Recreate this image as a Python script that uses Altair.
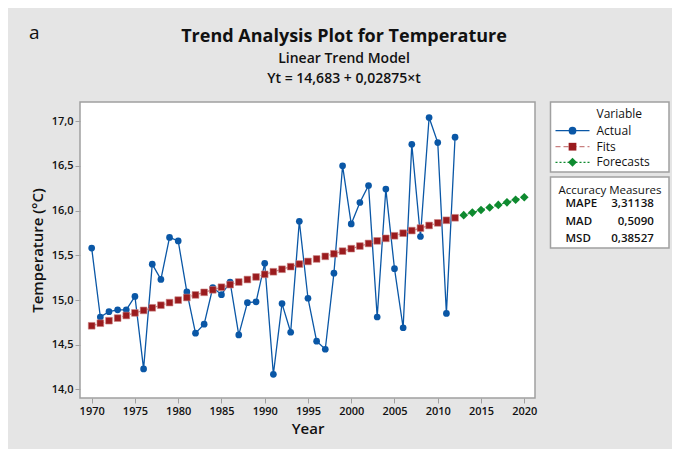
import altair as alt
import pandas as pd

# ---- data ----
years_actual = list(range(1970, 2013))
actual = [15.58, 14.81, 14.87, 14.89, 14.89, 15.04, 14.23, 15.40, 15.23, 15.70,
          15.66, 15.09, 14.63, 14.73, 15.14, 15.06, 15.20, 14.61, 14.97, 14.98,
          15.41, 14.17, 14.96, 14.64, 15.88, 15.02, 14.54, 14.45, 15.30, 16.50,
          15.85, 16.09, 16.28, 14.81, 16.24, 15.35, 14.69, 16.74, 15.71, 17.04,
          16.76, 14.85, 16.82]
fits = [14.712, 14.741, 14.769, 14.798, 14.827, 14.856, 14.884, 14.913, 14.942, 14.971,
        14.999, 15.028, 15.057, 15.086, 15.114, 15.143, 15.172, 15.201, 15.229, 15.258,
        15.287, 15.316, 15.344, 15.373, 15.402, 15.431, 15.459, 15.488, 15.517, 15.546,
        15.574, 15.603, 15.632, 15.661, 15.689, 15.718, 15.747, 15.776, 15.804, 15.833,
        15.862, 15.891, 15.919]
years_forecast = list(range(2013, 2021))
forecasts = [15.948, 15.977, 16.006, 16.034, 16.063, 16.092, 16.121, 16.149]
x_ticks = list(range(1970, 2021, 5))
y_ticks = [14.0, 14.5, 15.0, 15.5, 16.0, 16.5, 17.0]
measures = ["MAPE", "MAD", "MSD"]
measure_values = ["3,31138", "0,5090", "0,38527"]

df_a = pd.DataFrame({"Year": years_actual, "Temperature": actual})
df_f = pd.DataFrame({"Year": years_actual, "Temperature": fits})
df_fc = pd.DataFrame({"Year": years_forecast, "Temperature": forecasts})

BLUE = "#0A57A6"
RED = "#9A1B1E"
RED_LINE = "#C98080"
GREEN = "#0E8A2F"
GRAY = "#A0A0A0"
FONT = "Open Sans"

W, H = 455, 296

xenc = alt.X("Year:Q",
             scale=alt.Scale(domain=[1968.65, 2021.24], nice=False, zero=False),
             axis=alt.Axis(values=x_ticks, format="d", title="Year",
                           titleFontSize=15, titleFont=FONT, titleFontWeight=600,
                           titlePadding=5, titleColor="#111",
                           labelFont=FONT, labelFontSize=11, labelFontWeight=600,
                           labelColor="#111", labelPadding=2,
                           tickColor=GRAY, tickSize=5, domain=False, grid=False))
yenc = alt.Y("Temperature:Q",
             scale=alt.Scale(domain=[13.905, 17.213], nice=False, zero=False),
             axis=alt.Axis(values=y_ticks, title="Temperature (°C)",
                           labelExpr="replace(format(datum.value, '.1f'), '.', ',')",
                           titleFontSize=15, titleFont=FONT, titleFontWeight=600,
                           titlePadding=6, titleColor="#111",
                           labelFont=FONT, labelFontSize=11, labelFontWeight=600,
                           labelColor="#111", labelPadding=2,
                           tickColor=GRAY, tickSize=5, domain=False, grid=False))

actual_layer = alt.Chart(df_a).mark_line(
    color=BLUE, strokeWidth=1.3,
    point=alt.OverlayMarkDef(filled=True, size=45, color=BLUE, opacity=1)
).encode(x=xenc, y=yenc)

fits_line = alt.Chart(df_f).mark_line(color=RED_LINE, strokeWidth=1.3, strokeDash=[5, 3]).encode(x=xenc, y=yenc)
fits_pts = alt.Chart(df_f).mark_point(shape="square", filled=True, size=45, color=RED,
                                      stroke=RED_LINE, strokeWidth=0.6, opacity=1).encode(x=xenc, y=yenc)
fc_line = alt.Chart(df_fc).mark_line(color=GREEN, strokeWidth=1.2, strokeDash=[2, 2]).encode(x=xenc, y=yenc)
fc_pts = alt.Chart(df_fc).mark_point(shape="diamond", filled=True, size=75, color=GREEN, opacity=1).encode(x=xenc, y=yenc)

one = pd.DataFrame({"k": [0]})


def txt(s, x, y, size=11, weight="normal", align="left", font=FONT, color="#111"):
    return alt.Chart(one).mark_text(text=s, fontSize=size, fontWeight=weight, align=align,
                                    baseline="middle", font=font, color=color).encode(
        x=alt.value(x), y=alt.value(y))


def box(x1, x2, y1, y2):
    return alt.Chart(one).mark_rect(fill="white", stroke=GRAY, strokeWidth=1.5).encode(
        x=alt.value(x1), x2=alt.value(x2), y=alt.value(y1), y2=alt.value(y2))


def hline(x1, x2, y, color, dash, width=1.3):
    kw = dict(color=color, strokeWidth=width)
    if dash:
        kw["strokeDash"] = dash
    return alt.Chart(one).mark_rule(**kw).encode(x=alt.value(x1), x2=alt.value(x2), y=alt.value(y))


def sym(x, y, shape, color, size):
    return alt.Chart(one).mark_point(shape=shape, filled=True, size=size, color=color, opacity=1).encode(
        x=alt.value(x), y=alt.value(y))


layers = [actual_layer, fits_line, fits_pts, fc_line, fc_pts]

# titles
layers += [
    txt("a", -51, -69, size=19),
    txt("Trend Analysis Plot for Temperature", 264, -65, size=18, weight="bold", align="center"),
    txt("Linear Trend Model", 264, -43, size=14, weight=600, align="center"),
    txt("Yt = 14,683 + 0,02875×t", 264, -23, size=14, weight=600, align="center"),
]

# legend box 1
layers += [
    box(470.5, 589, 0, 70),
    txt("Variable", 516.5, 12.3, size=12),
    hline(475.5, 509.5, 28.7, BLUE, None),
    sym(492.5, 28.7, "circle", BLUE, 60),
    txt("Actual", 516.5, 28.7, size=12),
    hline(475.5, 509.5, 44.7, RED_LINE, [5, 3]),
    sym(492.5, 44.7, "square", RED, 60),
    txt("Fits", 516.5, 44.7, size=12),
    hline(475.5, 509.5, 60.3, GREEN, [2, 2]),
    sym(492.5, 60.3, "diamond", GREEN, 80),
    txt("Forecasts", 516.5, 60.3, size=12),
]

# legend box 2
layers += [box(470.5, 589, 75, 146),
           txt("Accuracy Measures", 530, 88.7, size=11.5, weight=500, align="center")]
for i, (m, v) in enumerate(zip(measures, measure_values)):
    yy = 102.3 + i * 17.2
    layers += [txt(m, 485.5, yy, size=11.5, weight=600),
               txt(v, 573.8, yy, size=11.5, align="right", weight=600)]

chart = alt.layer(*layers).properties(
    width=W, height=H,
    autosize=alt.AutoSizeParams(type="none"),
    padding={"left": 72, "top": 94, "right": 137, "bottom": 51},
    background="#E5E5E5",
).configure_view(stroke=GRAY, strokeWidth=1.5, fill="white")

chart.save("out.html", embed_options={"renderer": "svg", "actions": False})
